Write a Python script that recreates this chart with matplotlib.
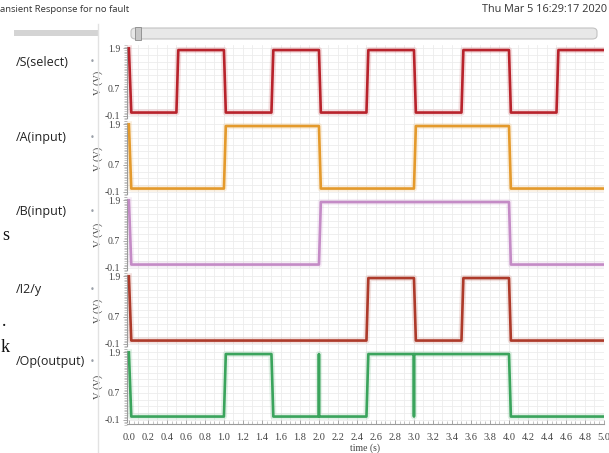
import numpy as np
import matplotlib.pyplot as plt
from matplotlib.patches import FancyBboxPatch, Rectangle
from matplotlib.ticker import MultipleLocator, FixedLocator

# Digital waveform description: toggle times (s) of each net, starting low
signal_names = ["/S(select)", "/A(input)", "/B(input)", "/I2/y", "/Op(output)"]
s_toggles = [0.5, 1.0, 1.5, 2.0, 2.5, 3.0, 3.5, 4.0, 4.5]
a_toggles = [1.0, 2.0, 3.0, 4.0]
b_toggles = [2.0, 4.0]
y_toggles = [2.5, 3.0, 3.5, 4.0]
op_toggles = [1.0, 1.5, 2.5, 4.0]
op_spikes = [2.0]   # narrow glitch up while low
op_dips = [3.0]     # narrow glitch down while high
colors = ["#b8232c", "#e49a2c", "#c48bc6", "#ad3a2a", "#3aa45c"]

V_HIGH = 1.85
V_LOW = 0.0
V_START = 1.9
T_END = 5.0
EDGE = 0.02

y_tick_vals = [-0.1, 0.7, 1.9]
x_tick_vals = np.round(np.arange(0.0, 5.01, 0.2), 1)


def waveform(toggles, spikes=(), dips=()):
    t = [0.0, 0.025]
    v = [V_START, V_LOW]
    level = V_LOW
    events = sorted([(tt, "toggle") for tt in toggles] +
                    [(tt, "spike") for tt in spikes] +
                    [(tt, "dip") for tt in dips])
    for tt, kind in events:
        if kind == "toggle":
            new = V_HIGH if level == V_LOW else V_LOW
            t += [tt, tt + EDGE]
            v += [level, new]
            level = new
        elif kind == "spike":
            t += [tt - 0.0005, tt, tt + 0.0005]
            v += [V_LOW, V_HIGH, V_LOW]
        else:
            t += [tt - 0.0005, tt, tt + 0.0005]
            v += [V_HIGH, V_LOW, V_HIGH]
    t.append(T_END)
    v.append(level)
    return np.array(t), np.array(v)


waves = [
    waveform(s_toggles),
    waveform(a_toggles),
    waveform(b_toggles),
    waveform(y_toggles),
    waveform(op_toggles, op_spikes, op_dips),
]

W, H = 609, 453
fig = plt.figure(figsize=(W / 100, H / 100), dpi=100)
fig.patch.set_facecolor("white")


def fx(px):
    return px / W


def fy(py):
    return 1 - py / H


serif = "Liberation Serif"
sans = "Open Sans"

# Window header
fig.text(fx(0), fy(9), "ansient Response for no fault", fontsize=6.8,
         family=sans, color="#333333", va="center", ha="left")
fig.text(fx(607), fy(9), "Thu Mar 5 16:29:17 2020", fontsize=7.8,
         family=sans, color="#333333", va="center", ha="right")

# Left signal list panel
fig.patches.append(Rectangle((fx(14), fy(36)), fx(84), 6 / H,
                             transform=fig.transFigure, facecolor="#d4d4d4",
                             edgecolor="none"))
fig.lines.append(plt.Line2D([fx(98), fx(98)], [fy(24), fy(453)],
                            transform=fig.transFigure, color="#e2e2e2", lw=1))
label_y = [62, 137, 212, 290, 362]
for name, py in zip(signal_names, label_y):
    fig.text(fx(16), fy(py), name, fontsize=9, family=sans,
             color="#222222", va="center", ha="left")
    fig.text(fx(92), fy(py), "•", fontsize=6, color="#9aa0a8",
             va="center", ha="center")

# Stray text fragments at the far left
fig.text(fx(2), fy(236), "s", fontsize=13, family=serif, color="#111111",
         va="center", ha="left")
fig.text(fx(2), fy(322), ".", fontsize=13, family=serif, color="#111111",
         va="center", ha="left")
fig.text(fx(1), fy(348), "k", fontsize=13, family=serif, color="#111111",
         va="center", ha="left")

# Scroll bar above the plots
fig.patches.append(FancyBboxPatch((fx(131), fy(39)), fx(466), 11 / H,
                                  boxstyle="round,pad=0,rounding_size=0.008",
                                  transform=fig.transFigure,
                                  facecolor="#e8e8e8", edgecolor="#c2c2c2",
                                  lw=0.8))
fig.patches.append(Rectangle((fx(135), fy(40)), fx(6), 13 / H,
                             transform=fig.transFigure, facecolor="#c8c8c8",
                             edgecolor="#8a8a8a", lw=0.6))

# Stacked waveform panels
left_px, right_px = 127, 604
top_px, slot_px = 45, 76
x0, x1 = -0.02, 5.0

axes = []
for i, ((t, v), col) in enumerate(zip(waves, colors)):
    ax_top = top_px + i * slot_px
    ax = fig.add_axes([fx(left_px), fy(ax_top + slot_px),
                       fx(right_px - left_px), slot_px / H])
    ax.set_xlim(x0, x1)
    ax.set_ylim(-0.25, 2.0)
    ax.set_facecolor("white")
    for sp in ["top", "right", "bottom"]:
        ax.spines[sp].set_visible(False)
    ax.spines["left"].set_color("#9a9a9a")
    ax.spines["left"].set_linewidth(0.8)
    ax.spines["left"].set_bounds(-0.15, 1.95)

    # grid
    for gx in np.arange(0.1, 5.0, 0.1):
        ax.axvline(gx, color="#ececec", lw=0.6, zorder=0)
    for gy in np.arange(-0.1, 1.95, 0.2):
        ax.axhline(gy, color="#ececec", lw=0.6, zorder=0)

    ax.plot(t, v, color=col, lw=4.5, alpha=0.15, solid_joinstyle="round",
            zorder=2)
    ax.plot(t, v, color=col, lw=1.9, solid_joinstyle="round", zorder=3)

    ax.yaxis.set_major_locator(FixedLocator(y_tick_vals))
    ax.yaxis.set_minor_locator(MultipleLocator(0.05))
    ax.set_yticklabels(["-0.1", "0.7", "1.9"], fontsize=7, family=serif,
                       color="#444444")
    ax.tick_params(axis="y", which="major", length=3, width=0.6,
                   color="#9a9a9a", pad=2)
    ax.tick_params(axis="y", which="minor", length=2, width=0.5,
                   color="#b0b0b0")
    ax.set_ylabel("V (V)", fontsize=7.5, family=serif, color="#444444",
                  labelpad=1)
    ax.set_xticks([])
    axes.append(ax)

# Time axis ruler on the bottom panel
bax = axes[-1]
bax.spines["bottom"].set_visible(True)
bax.spines["bottom"].set_color("#9a9a9a")
bax.spines["bottom"].set_linewidth(0.8)
bax.spines["bottom"].set_position(("data", -0.23))
bax.set_xticks(x_tick_vals)
bax.set_xticklabels([f"{x:.1f}" for x in x_tick_vals], fontsize=7.5,
                    family=serif, color="#444444")
bax.xaxis.set_minor_locator(MultipleLocator(0.05))
bax.tick_params(axis="x", which="major", length=3, width=0.6,
                color="#9a9a9a", pad=6, direction="in")
bax.tick_params(axis="x", which="minor", length=2, width=0.5,
                color="#b0b0b0", direction="in")
bax.set_xlabel("time (s)", fontsize=7, family=serif, color="#444444",
               labelpad=1)

fig.savefig("out.png", dpi=100, facecolor="white")
